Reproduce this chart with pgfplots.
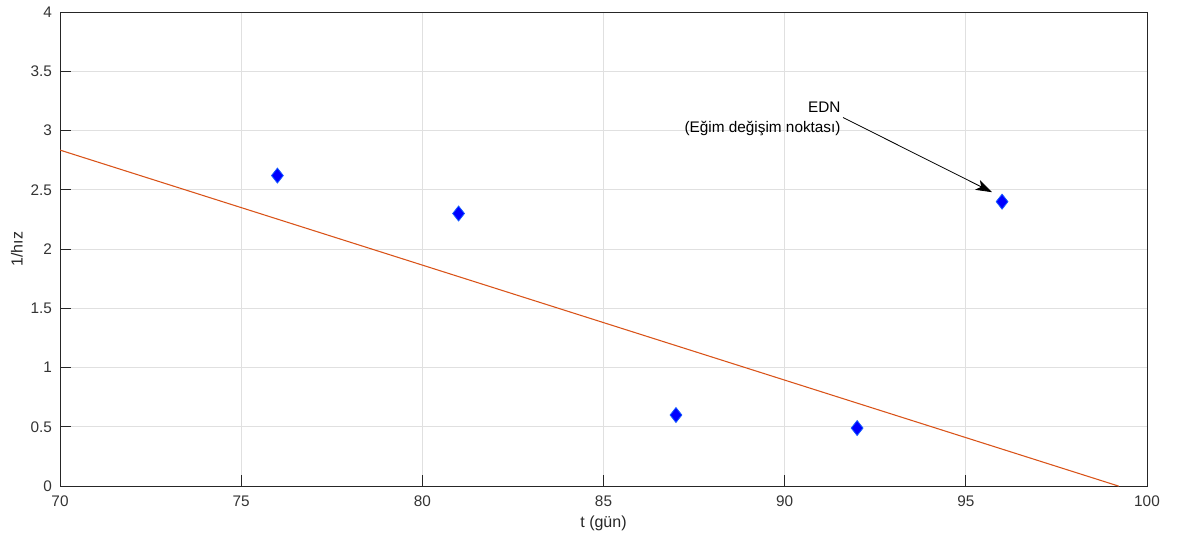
\documentclass[border=0pt]{standalone}
\usepackage{pgfplots}
\pgfplotsset{compat=1.18}
\usepackage{fontspec}
\setmainfont{Liberation Sans}
\usetikzlibrary{arrows.meta}
\definecolor{mlorange}{rgb}{0.85,0.325,0.098}
\definecolor{gridgray}{rgb}{0.88,0.88,0.88}
\begin{document}
\fontsize{11.5}{13}\selectfont
\begin{tikzpicture}
\begin{axis}[
  name=ax,
  scale only axis,
  width=815pt,
  height=355.5pt,
  xmin=70, xmax=100,
  ymin=0, ymax=4,
  xtick={70,75,...,100},
  ytick={0,0.5,...,4},
  yticklabels={0,0.5,1,1.5,2,2.5,3,3.5,4},
  xlabel={t (gün)},
  ylabel={1/hız},
  grid=major,
  grid style={draw=gridgray, line width=0.6pt},
  tick align=inside,
  tick pos=left,
  major tick length=8pt,
  axis line style={line width=0.7pt, black!85},
  tick style={line width=0.7pt, black!85},
  ticklabel style={font=\fontsize{11.5}{13}\selectfont, text=black!80},
  label style={font=\fontsize{12}{13}\selectfont, text=black!85},
  /pgf/number format/assume math mode=true,
  xticklabel style={yshift=-3pt},
  yticklabel style={xshift=-2pt},
  xlabel style={yshift=1pt},
  ylabel style={yshift=-2pt},
  clip=true,
]
\addplot[mlorange, line width=0.8pt] coordinates {(70,2.835) (99.22,0)};
\addplot[only marks, mark=diamond*, mark size=5.6pt,
  mark options={xscale=1.05, fill=blue, draw={rgb,255:red,20;green,90;blue,255}, line width=0.6pt}]
  coordinates {(76,2.62) (81,2.30) (87,0.60) (92,0.49) (96,2.40)};
\draw[-{Stealth[length=12pt,width=8pt,inset=3pt]}, line width=0.6pt, black]
  (axis cs:91.61,3.11) -- (axis cs:95.72,2.48);
\node[anchor=east, inner sep=0pt] at (axis cs:91.55,3.20) {EDN};
\node[anchor=east, inner sep=0pt] at (axis cs:91.55,3.02) {(Eğim değişim noktası)};
\end{axis}
\path (ax.south west) ++(-45pt,-36.75pt);
\path (ax.north east) ++(27.75pt,9pt);
\end{tikzpicture}
\end{document}
